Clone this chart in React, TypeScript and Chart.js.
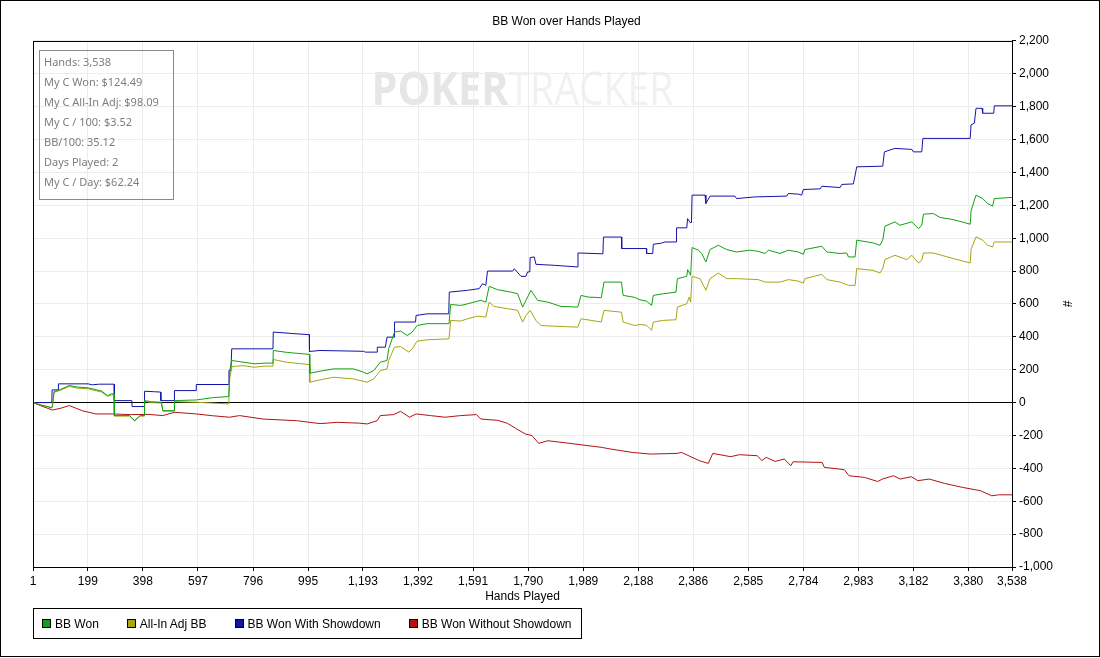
import React, { useEffect, useRef } from "react";
import { Chart, registerables } from "chart.js";

Chart.register(...registerables);

const CHART_TITLE = "BB Won over Hands Played";
const X_TITLE = "Hands Played";
const Y_TITLE = "#";
const X_MIN = 1;
const X_MAX = 3538;
const X_TICKS = [1, 199, 398, 597, 796, 995, 1193, 1392, 1591, 1790, 1989, 2188, 2386, 2585, 2784, 2983, 3182, 3380, 3538];
const Y_MIN = -1000;
const Y_MAX = 2200;
const Y_STEP = 200;

const SERIES_LABELS = ["BB Won", "All-In Adj BB", "BB Won With Showdown", "BB Won Without Showdown"];
const SERIES_COLORS = ["#14a014", "#a6a614", "#1414aa", "#b01414"];

const BB_WON: [number, number][] = [
  [1, 0], [30, -15], [55, -25], [69, -32], [72, -10], [77, 67], [100, 80], [132, 104], [160, 95], [200, 90],
  [249, 70], [270, 43], [285, 53], [294, 53], [295, -79], [350, -79], [368, -110], [388, -79], [403, -79], [404, 12],
  [430, 5], [465, 2], [470, -49], [511, -49], [512, 12], [591, 16], [650, 30], [708, 37], [712, 195], [719, 256],
  [760, 246], [800, 236], [840, 240], [868, 240], [869, 317], [920, 305], [1000, 293], [1001, 179], [1038, 191], [1087, 205],
  [1159, 205], [1195, 185], [1208, 175], [1232, 195], [1256, 246], [1280, 256], [1286, 327], [1307, 429], [1329, 435], [1353, 408],
  [1371, 429], [1389, 469], [1425, 480], [1504, 480], [1510, 597], [1546, 591], [1571, 601], [1619, 622], [1637, 611], [1649, 707],
  [1679, 687], [1728, 672], [1752, 662], [1770, 581], [1782, 622], [1800, 683], [1824, 622], [1861, 611], [1909, 585], [1969, 581],
  [1981, 652], [2006, 642], [2054, 638], [2064, 733], [2127, 733], [2133, 652], [2175, 640], [2194, 625], [2218, 617], [2236, 591],
  [2242, 652], [2278, 662], [2324, 672], [2329, 754], [2363, 768], [2366, 809], [2377, 774], [2382, 943], [2405, 927], [2417, 907],
  [2432, 855], [2447, 931], [2477, 957], [2507, 931], [2543, 916], [2591, 927], [2621, 920], [2646, 907], [2658, 927], [2700, 907],
  [2730, 927], [2766, 916], [2784, 902], [2790, 931], [2851, 951], [2869, 916], [2917, 907], [2941, 910], [2947, 886], [2971, 886],
  [2977, 988], [3037, 971], [3061, 957], [3071, 988], [3079, 1073], [3115, 1099], [3133, 1079], [3176, 1099], [3200, 1058], [3212, 1079],
  [3218, 1146], [3254, 1150], [3278, 1126], [3326, 1113], [3387, 1085], [3390, 1166], [3408, 1262], [3432, 1241], [3450, 1211], [3468, 1195],
  [3474, 1241], [3538, 1248],
];

const ALL_IN_ADJ: [number, number][] = [
  [1, 0], [30, -15], [55, -25], [69, -32], [72, -12], [77, 62], [100, 75], [132, 98], [160, 88], [200, 84],
  [249, 64], [270, 38], [285, 47], [294, 47], [295, -82], [350, -82], [368, -112], [388, -82], [403, -82], [404, 8],
  [430, 0], [465, -3], [470, -52], [511, -52], [512, 6], [591, 2], [650, -3], [708, -8], [712, 150], [720, 219],
  [760, 225], [800, 215], [840, 222], [868, 222], [869, 262], [920, 245], [1000, 231], [1001, 124], [1038, 138], [1087, 154],
  [1159, 144], [1208, 124], [1232, 144], [1256, 195], [1280, 205], [1286, 256], [1307, 337], [1329, 341], [1359, 307], [1371, 327],
  [1389, 374], [1425, 382], [1504, 388], [1510, 500], [1546, 496], [1571, 510], [1607, 526], [1637, 520], [1649, 611], [1667, 585],
  [1716, 571], [1752, 561], [1770, 490], [1782, 530], [1797, 561], [1818, 500], [1836, 469], [1909, 463], [1969, 459], [1981, 510],
  [2054, 490], [2064, 561], [2127, 550], [2133, 490], [2175, 469], [2194, 475], [2218, 470], [2236, 440], [2242, 490], [2278, 500],
  [2324, 504], [2329, 581], [2363, 601], [2372, 642], [2377, 611], [2382, 768], [2411, 754], [2432, 683], [2447, 754], [2477, 788],
  [2507, 754], [2543, 754], [2621, 748], [2646, 733], [2700, 733], [2730, 748], [2766, 739], [2784, 727], [2790, 754], [2851, 780],
  [2869, 748], [2917, 733], [2947, 713], [2971, 713], [2977, 815], [3037, 804], [3061, 788], [3071, 815], [3079, 870], [3115, 896],
  [3158, 870], [3176, 896], [3200, 849], [3212, 865], [3218, 910], [3254, 910], [3326, 876], [3387, 849], [3390, 931], [3408, 1008],
  [3432, 988], [3450, 957], [3468, 947], [3474, 977], [3538, 977],
];

const WITH_SHOWDOWN: [number, number][] = [
  [1, 0], [69, 0], [70, 77], [92, 77], [93, 114], [200, 114], [215, 108], [240, 112], [294, 112], [295, 12],
  [358, 12], [359, -24], [403, -24], [404, 69], [440, 66], [462, 64], [463, 12], [511, 12], [512, 73], [590, 73],
  [591, 110], [708, 110], [709, 195], [716, 195], [719, 327], [868, 327], [869, 429], [940, 420], [999, 413], [1000, 311],
  [1038, 317], [1195, 312], [1202, 307], [1244, 307], [1245, 337], [1274, 337], [1280, 398], [1306, 398], [1307, 490], [1383, 490],
  [1385, 530], [1425, 540], [1503, 540], [1505, 672], [1571, 683], [1613, 693], [1625, 723], [1637, 713], [1643, 800], [1734, 800],
  [1740, 814], [1764, 768], [1782, 768], [1788, 795], [1796, 795], [1797, 882], [1812, 886], [1818, 841], [1885, 835], [1969, 825],
  [1970, 910], [2060, 905], [2062, 1007], [2127, 1007], [2128, 937], [2217, 937], [2218, 907], [2240, 907], [2242, 963], [2272, 970],
  [2284, 977], [2325, 977], [2326, 1063], [2363, 1063], [2366, 1119], [2375, 1095], [2380, 1095], [2382, 1262], [2429, 1262], [2432, 1211],
  [2447, 1256], [2537, 1256], [2543, 1241], [2609, 1251], [2724, 1256], [2730, 1272], [2766, 1268], [2778, 1262], [2784, 1296], [2845, 1300],
  [2851, 1316], [2917, 1308], [2923, 1327], [2965, 1330], [2977, 1434], [3071, 1438], [3077, 1525], [3115, 1546], [3176, 1540], [3182, 1525],
  [3212, 1525], [3216, 1607], [3387, 1607], [3390, 1689], [3402, 1700], [3408, 1790], [3430, 1790], [3432, 1760], [3472, 1760], [3474, 1805],
  [3538, 1805],
];

const WITHOUT_SHOWDOWN: [number, number][] = [
  [1, 0], [30, -20], [71, -45], [100, -35], [132, -18], [180, -50], [228, -69], [289, -69], [354, -73], [420, -72],
  [470, -79], [512, -59], [591, -69], [650, -80], [711, -89], [747, -79], [832, -100], [953, -110], [1038, -128], [1100, -120],
  [1180, -125], [1208, -130], [1244, -110], [1256, -79], [1304, -73], [1329, -53], [1361, -89], [1385, -69], [1437, -79], [1490, -89],
  [1546, -79], [1603, -73], [1619, -100], [1680, -108], [1715, -126], [1748, -160], [1780, -191], [1804, -201], [1828, -248], [1861, -232],
  [1941, -248], [2006, -262], [2054, -272], [2086, -282], [2166, -303], [2231, -313], [2328, -309], [2344, -303], [2408, -353], [2441, -370],
  [2457, -309], [2521, -329], [2553, -317], [2618, -323], [2634, -353], [2650, -333], [2682, -358], [2715, -343], [2739, -384], [2747, -360],
  [2852, -364], [2860, -394], [2932, -408], [2949, -445], [3005, -455], [3053, -480], [3070, -465], [3110, -445], [3134, -465], [3174, -451],
  [3198, -475], [3239, -465], [3295, -492], [3360, -516], [3424, -536], [3465, -567], [3489, -561], [3538, -561],
];

const SERIES_DATA = [BB_WON, ALL_IN_ADJ, WITH_SHOWDOWN, WITHOUT_SHOWDOWN];

const STATS = [
  "Hands: 3,538",
  "My C Won: $124.49",
  "My C All-In Adj: $98.09",
  "My C / 100: $3.52",
  "BB/100: 35.12",
  "Days Played: 2",
  "My C / Day: $62.24",
];

const WATERMARK = ["POKER", "TRACKER"];

const FONT = "'Liberation Sans', Arial, sans-serif";

const fmt = (v: number) => Number(v).toLocaleString("en-US");

const decorPlugin = {
  id: "decor",
  beforeDraw(chart: any) {
    const { ctx, chartArea: a, width, height } = chart;
    ctx.save();
    ctx.fillStyle = "#ffffff";
    ctx.fillRect(0, 0, width, height);
    // watermark
    const cx = (a.left + a.right) / 2;
    const base = a.top + 64;
    ctx.textBaseline = "alphabetic";
    ctx.font = "bold 46px 'Open Sans', sans-serif";
    const m1 = ctx.measureText(WATERMARK[0]).width;
    ctx.font = "46px 'Open Sans', sans-serif";
    const m2 = ctx.measureText(WATERMARK[1]).width;
    const w1 = 137;
    const w2 = 165;
    const x0 = cx - (w1 + w2) / 2;
    ctx.save();
    ctx.translate(x0, base);
    ctx.scale(w1 / m1, 1);
    ctx.font = "bold 46px 'Open Sans', sans-serif";
    ctx.fillStyle = "#e6e6e6";
    ctx.textAlign = "left";
    ctx.fillText(WATERMARK[0], 0, 0);
    ctx.restore();
    ctx.save();
    ctx.translate(x0 + w1, base);
    ctx.scale(w2 / m2, 1);
    ctx.font = "46px 'Open Sans', sans-serif";
    ctx.fillStyle = "#f1f1f1";
    ctx.textAlign = "left";
    ctx.fillText(WATERMARK[1], 0, 0);
    ctx.restore();
    ctx.restore();
  },
  afterDraw(chart: any) {
    const { ctx, chartArea: a, width, height } = chart;
    ctx.save();
    // plot frame
    ctx.strokeStyle = "#000000";
    ctx.lineWidth = 1;
    const l = Math.round(a.left) + 0.5;
    const t = Math.round(a.top) + 0.5;
    const r = Math.round(a.right) + 0.5;
    const b = Math.round(a.bottom) + 0.5;
    ctx.strokeRect(l, t, r - l, b - t);
    // outer border
    ctx.strokeRect(0.5, 0.5, width - 1, height - 2);
    // stats box
    const bx = Math.round(a.left) + 6.5;
    const by = Math.round(a.top) + 9.5;
    ctx.strokeStyle = "#8a8a8a";
    ctx.strokeRect(bx, by, 134, 149);
    ctx.fillStyle = "#7d7d7d";
    ctx.font = "11px 'Noto Sans', sans-serif";
    ctx.textBaseline = "middle";
    ctx.textAlign = "left";
    STATS.forEach((s, i) => {
      ctx.fillText(s, bx + 4.5, by + 12.5 + i * 20);
    });
    ctx.restore();
  },
};

export default function App() {
  const canvasRef = useRef<HTMLCanvasElement | null>(null);

  useEffect(() => {
    if (!canvasRef.current) return;
    const chart = new Chart(canvasRef.current, {
      type: "line",
      data: {
        datasets: SERIES_LABELS.map((label, i) => ({
          label,
          data: SERIES_DATA[i].map(([x, y]) => ({ x, y })),
          borderColor: SERIES_COLORS[i],
          backgroundColor: SERIES_COLORS[i],
          borderWidth: 1,
          pointRadius: 0,
          tension: 0,
          fill: false,
        })),
      },
      options: {
        animation: false,
        responsive: false,
        devicePixelRatio: 1,
        events: [],
        layout: { padding: { left: 33, right: 0, top: 0, bottom: 50 } },
        plugins: {
          legend: { display: false },
          tooltip: { enabled: false },
          title: {
            display: true,
            text: CHART_TITLE,
            color: "#000",
            font: { family: FONT, size: 12, weight: "normal" },
            padding: { top: 14.5, bottom: 12 },
          },
        },
        scales: {
          x: {
            type: "linear",
            min: X_MIN,
            max: X_MAX,
            afterBuildTicks: (scale: any) => {
              scale.ticks = X_TICKS.map((v) => ({ value: v }));
            },
            afterFit: (scale: any) => {
              scale.height = 41;
            },
            ticks: {
              autoSkip: false,
              maxRotation: 0,
              minRotation: 0,
              color: "#000",
              padding: 3,
              font: { family: FONT, size: 12 },
              callback: (v: any) => fmt(v),
            },
            grid: {
              color: "#ececec",
              tickColor: "#000",
              tickLength: 4,
              lineWidth: 1,
            },
            border: { display: true, color: "#000" },
            title: {
              display: true,
              text: X_TITLE,
              color: "#000",
              font: { family: FONT, size: 12 },
              padding: { top: 4, bottom: 4 },
            },
          },
          y: {
            type: "linear",
            position: "right",
            min: Y_MIN,
            max: Y_MAX,
            afterFit: (scale: any) => {
              scale.width = 88;
            },
            ticks: {
              stepSize: Y_STEP,
              color: "#000",
              padding: 3,
              font: { family: FONT, size: 12 },
              callback: (v: any) => fmt(v),
            },
            grid: {
              color: (ctx: any) => (ctx.tick && ctx.tick.value === 0 ? "#000" : "#ececec"),
              tickColor: "#000",
              tickLength: 4,
              lineWidth: 1,
            },
            border: { display: true, color: "#000" },
            title: {
              display: true,
              text: Y_TITLE,
              color: "#000",
              font: { family: FONT, size: 12 },
              padding: { top: 26, bottom: 0 },
            },
          },
        },
      },
      plugins: [decorPlugin],
    } as any);
    return () => chart.destroy();
  }, []);

  return (
    <div style={{ position: "absolute", left: 0, top: 0, width: 1100, height: 658, background: "#fff" }}>
      <canvas ref={canvasRef} width={1100} height={658} style={{ position: "absolute", left: 0, top: 0, width: 1100, height: 658 }} />
      <div
        style={{
          position: "absolute",
          left: 33,
          top: 608,
          height: 31,
          boxSizing: "border-box",
          border: "1px solid #000",
          display: "flex",
          alignItems: "center",
          paddingLeft: 8,
          paddingRight: 9,
          fontFamily: FONT,
          fontSize: 12,
          color: "#000",
          whiteSpace: "nowrap",
        }}
      >
        {SERIES_LABELS.map((label, i) => (
          <div key={label} style={{ display: "flex", alignItems: "center", marginRight: i < SERIES_LABELS.length - 1 ? 28 : 0 }}>
            <span
              style={{
                display: "inline-block",
                width: 7,
                height: 7,
                border: "1px solid #000",
                background: SERIES_COLORS[i],
                marginRight: 4,
              }}
            />
            <span>{label}</span>
          </div>
        ))}
      </div>
    </div>
  );
}
